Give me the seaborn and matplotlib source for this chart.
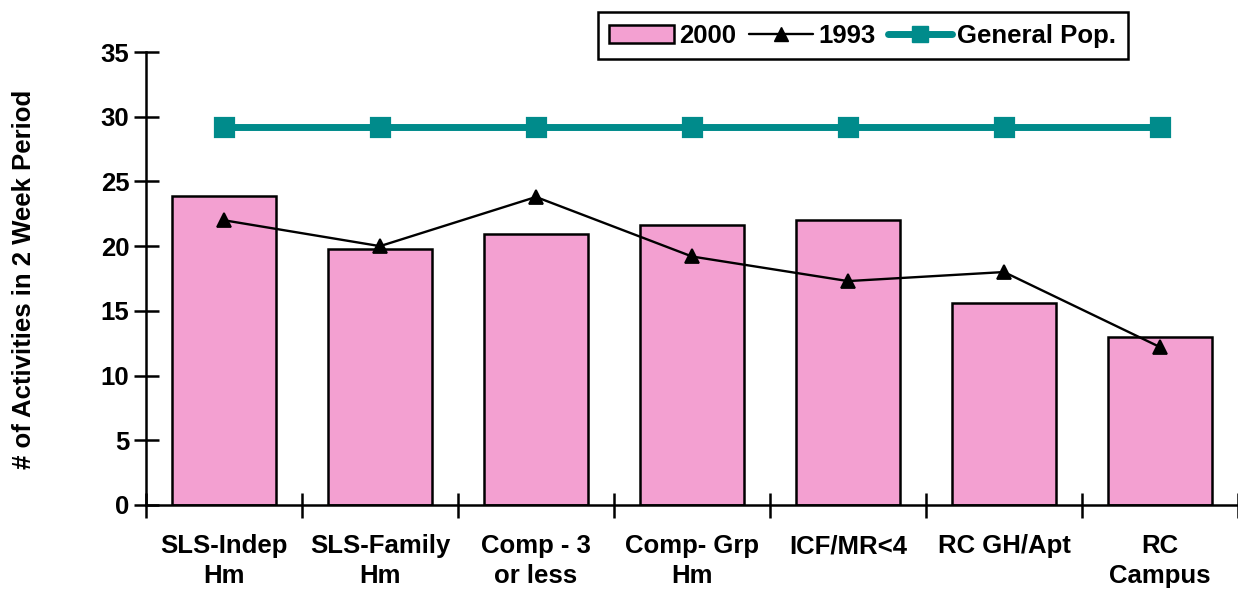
import matplotlib
matplotlib.use("Agg")
import matplotlib.pyplot as plt
import seaborn as sns
import pandas as pd
from matplotlib.patches import Patch
from matplotlib.lines import Line2D

categories = ["SLS-Indep\nHm", "SLS-Family\nHm", "Comp - 3\nor less", "Comp- Grp\nHm",
              "ICF/MR<4", "RC GH/Apt", "RC\nCampus"]
values_2000 = [23.9, 19.8, 20.9, 21.6, 22.0, 15.6, 13.0]
values_1993 = [22.0, 20.0, 23.8, 19.2, 17.3, 18.0, 12.2]
values_genpop = [29.2, 29.2, 29.2, 29.2, 29.2, 29.2, 29.2]

df = pd.DataFrame({"cat": categories, "y2000": values_2000,
                   "y1993": values_1993, "gen": values_genpop})

sns.set_theme(style="white")
plt.rcParams["font.family"] = ["Liberation Sans", "DejaVu Sans"]
plt.rcParams["font.weight"] = "bold"
plt.rcParams["text.color"] = "black"
plt.rcParams["axes.labelcolor"] = "black"

PINK = "#F3A0D1"
TEAL = "#008B8B"
FS = 18.5

fig = plt.figure(figsize=(12.38, 5.9), dpi=100)
ax = fig.add_axes([146/1238, 1-505/590, 1-146/1238, (505-52)/590])

sns.barplot(data=df, x="cat", y="y2000", color=PINK, edgecolor="black",
            linewidth=1.8, width=0.67, saturation=1, ax=ax)
sns.pointplot(data=df, x="cat", y="gen", color=TEAL, marker="s",
              markersize=11, linewidth=5, ax=ax)
sns.pointplot(data=df, x="cat", y="y1993", color="black", marker="^",
              markersize=10, linewidth=1.7, ax=ax)

ax.set_xlim(-0.5, 6.5)
ax.set_ylim(0, 35)
ax.set_yticks(range(0, 36, 5))
ax.set_xlabel("")
ax.set_ylabel("# of Activities in 2 Week Period", fontsize=FS, fontweight="bold", color="black")
ax.yaxis.set_label_coords((36 - 146) / 1092, 0.497)

for s in ["top", "right"]:
    ax.spines[s].set_visible(False)
for s in ["left", "bottom"]:
    ax.spines[s].set_color("black")
    ax.spines[s].set_linewidth(1.8)

ax.tick_params(axis="y", which="major", direction="inout", length=18, width=1.8,
               left=True, labelsize=FS, pad=3, colors="black")
ax.tick_params(axis="x", which="major", length=0, labelsize=FS, pad=21, colors="black")
ax.set_xticks([i - 0.5 for i in range(8)], minor=True)
ax.tick_params(axis="x", which="minor", direction="inout", length=18, width=1.8,
               bottom=True, color="black")
for lbl in ax.get_xticklabels():
    lbl.set_fontweight("bold")
    lbl.set_linespacing(1.33)
for lbl in ax.get_yticklabels():
    lbl.set_fontweight("bold")

handles = [Patch(facecolor=PINK, edgecolor="black", linewidth=1.8, label="2000"),
           Line2D([0], [0], color="black", lw=1.7, marker="^", markersize=10, label="1993"),
           Line2D([0], [0], color=TEAL, lw=5, marker="s", markersize=11,
                  solid_capstyle="round", label="General Pop.")]
leg = fig.legend(handles=handles, loc="upper right", bbox_to_anchor=(1128/1238, 1-12/590),
                 borderaxespad=0, ncol=3, frameon=True, fancybox=False, framealpha=1,
                 edgecolor="black", handlelength=2.5, handletextpad=0.2,
                 columnspacing=0.5, borderpad=0.45, prop={"weight": "bold", "size": FS})
leg.get_frame().set_linewidth(1.8)

fig.savefig("out.png", dpi=100)
